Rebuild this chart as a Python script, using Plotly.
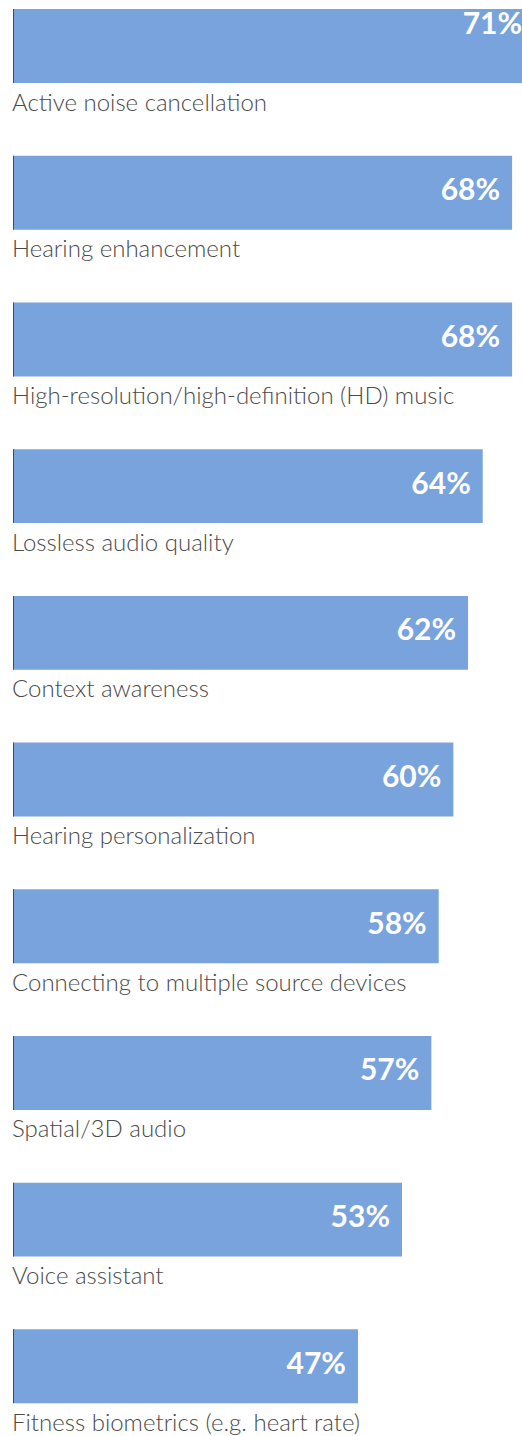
import plotly.graph_objects as go

categories = [
    "Active noise cancellation",
    "Hearing enhancement",
    "High-resolution/high-definition (HD) music",
    "Lossless audio quality",
    "Context awareness",
    "Hearing personalization",
    "Connecting to multiple source devices",
    "Spatial/3D audio",
    "Voice assistant",
    "Fitness biometrics (e.g. heart rate)",
]
values = [71, 68, 68, 64, 62, 60, 58, 57, 53, 47]
value_labels = [f"{v}%" for v in values]

BAR_COLOR = "#78a3dc"
TEXT_COLOR = "#4a4a4a"
X_MAX = 69.35

fig = go.Figure()
fig.add_trace(go.Bar(
    x=values,
    y=categories,
    orientation="h",
    width=0.504,
    marker=dict(color=BAR_COLOR, line=dict(width=0)),
    cliponaxis=True,
    hoverinfo="skip",
))

# value labels at the end of each bar (invisible markers give the inner padding);
# the label of the bar running past the frame sits a little higher, as in the source
shown_text = [t + ("<br>\u00a0" if v > X_MAX else "") for t, v in zip(value_labels, values)]
fig.add_trace(go.Scatter(
    x=values,
    y=categories,
    mode="markers+text",
    marker=dict(size=17.6, opacity=0, color=BAR_COLOR),
    text=shown_text,
    textposition="middle left",
    textfont=dict(family="Lato, Inter, sans-serif", size=30, color="white", weight="bold"),
    cliponaxis=True,
    hoverinfo="skip",
))

for i, cat in enumerate(categories):
    fig.add_annotation(
        x=0, y=cat, xref="x", yref="y",
        text=cat, showarrow=False,
        xanchor="left", yanchor="middle",
        xshift=-3,
        yshift=-55,
        font=dict(family="Lato, Roboto, sans-serif", size=24, color=TEXT_COLOR, weight=300),
    )
    fig.add_shape(
        type="line", xref="x", yref="y",
        x0=0, x1=0, y0=i - 0.252, y1=i + 0.252,
        line=dict(color="#4a4a4a", width=2),
    )

fig.update_layout(
    width=522, height=1436,
    margin=dict(l=13, r=0, t=0, b=0),
    paper_bgcolor="white", plot_bgcolor="white",
    showlegend=False,
    xaxis=dict(range=[0, X_MAX], visible=False, fixedrange=True),
    yaxis=dict(
        type="category",
        categoryorder="array", categoryarray=categories,
        range=[9.475, -0.314],
        visible=False, fixedrange=True,
    ),
)

fig.write_html(
    "out.html",
    config={"displayModeBar": False},
    post_script="document.body.style.margin='0';document.body.style.overflow='hidden';",
)
